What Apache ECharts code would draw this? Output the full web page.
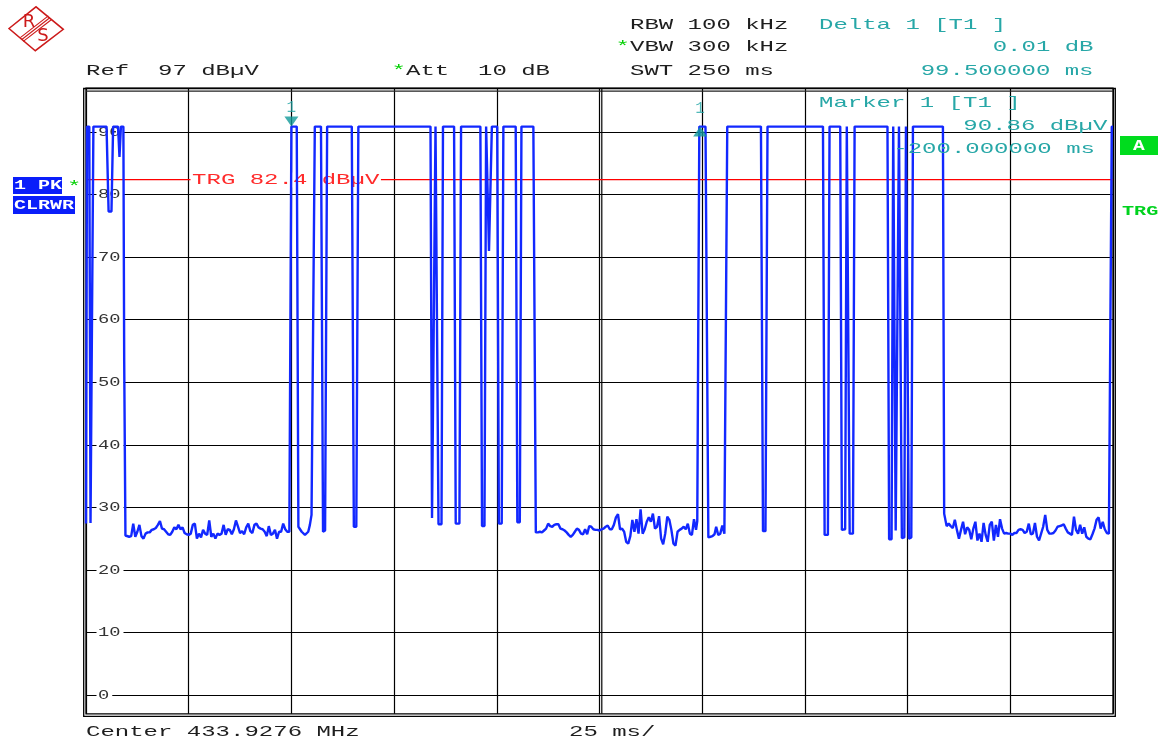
<!DOCTYPE html>
<html><head><meta charset="utf-8">
<script src="https://cdn.jsdelivr.net/npm/echarts@6/dist/echarts.min.js"></script>
<style>html,body{margin:0;padding:0;background:#fff}#c{width:1159px;height:740px}</style>
</head><body><div id="c"></div>
<script>
// ---------------- data ----------------
const H = 90.86;                       // level of the "on" state (marker reading)
const yTickValues = [0,10,20,30,40,50,60,70,80,90];
const yTickLabels = ['0','10','20','30','40','50','60','70','80','90'];
const xMin = 0, xMax = 250, xStep = 25;  // ms, 25 ms/div
const yMin = -3, yMax = 97;              // dBµV, Ref 97, 10 dB/div
const trgLevel = 82.4;
const marker1 = [50, 90.86];
const delta1 = [149.5, 90.87];
const noiseStep = 0.5;

const startT = [0, 0.25, 0.8, 1.1, 1.45, 1.8, 5.0, 5.5, 6.2, 6.6, 7.8, 8.15, 8.5, 9.1, 9.3, 9.6];
const startV = [27.4, H, H, 27.5, 27.5, H, H, 77.3, 77.3, H, H, 86.0, H, H, 53.3, 25.5];

const noise1Start = 10.0;
const noise1 = [25.4,25.3,25.4,27.4,25.3,26.1,27.2,25.4,25.0,25.8,
 26.0,26.0,26.4,26.5,26.7,27.2,27.8,26.6,26.5,26.1,
 25.7,25.6,26.1,26.8,26.5,27.2,26.5,26.8,25.9,25.7,
 25.6,25.8,27.2,27.4,25.0,25.8,25.2,26.4,25.8,25.6,
 27.9,25.3,25.8,25.0,25.8,25.6,25.8,27.2,25.6,26.5,
 26.4,25.7,26.5,27.9,26.9,25.9,26.2,25.7,26.8,27.4,
 26.2,25.9,27.2,27.4,26.8,26.6,26.5,26.1,25.4,27.0,
 25.6,25.8,26.4,25.0,26.1,26.1,27.4,26.5,26.1,26.1];

const burst1T = [49.7, 50.0, 51.3, 51.7, 52.5, 53.3, 54.1, 54.5, 54.9, 55.3, 55.7,
 57.2, 57.7, 58.2, 58.7,
 64.7, 65.2, 65.8, 66.3,
 83.86, 84.23, 84.71, 85.08,
 85.44, 85.81, 86.54, 86.9,
 89.6, 90.0, 90.9, 91.3,
 96.0, 96.4, 97.0, 97.4,
 97.8, 98.1, 98.5, 98.8,
 100.1, 100.5, 101.2, 101.6,
 104.6, 105.0, 105.6, 106.0,
 108.9, 109.5];
const burst1V = [26.2, H, H, 26.9, 26.1, 25.6, 26.1, 27.2, 28.8, 28.5, H,
 H, 26.1, 26.3, H,
 H, 26.9, 26.9, H,
 H, 28.3, 28.3, H,
 H, 27.3, 27.3, H,
 H, 27.4, 27.4, H,
 H, 27.0, 27.0, H,
 H, 71.0, 70.9, H,
 H, 27.4, 27.4, H,
 H, 27.6, 27.6, H,
 H, 26.0];

const noise2Start = 110.0;
const noise2 = [26.0,26.1,26.0,26.3,26.6,27.4,27.0,26.9,27.2,27.3,
 27.3,26.6,26.5,26.3,26.0,25.6,25.3,25.6,26.1,26.6,
 26.4,25.8,25.7,26.5,25.7,27.0,26.9,26.5,26.4,26.4,
 26.3,26.5,26.6,26.9,27.1,26.5,26.5,27.2,28.4,28.9,
 26.5,26.6,26.1,24.5,24.2,25.4,28.0,26.1,28.1,25.8,
 29.7,25.8,26.5,27.7,28.4,27.7,29.0,26.6,26.9,28.6,
 25.0,24.1,25.8,28.5,28.0,26.4,24.2,23.9,26.1,26.4,
 26.6,26.9,26.5,27.4,25.8,25.6,28.1,26.4];

const burst2T = [148.8, 149.3, 150.8, 151.5, 152.0, 152.5, 153.0, 153.4, 153.9, 154.4, 154.9, 155.4, 155.7, 156.1,
 164.3, 164.8, 165.4, 165.9,
 179.4, 179.8, 180.6, 181.0,
 183.6, 184.0, 184.8, 185.2,
 185.5, 185.9, 186.7, 187.1,
 195.1, 195.5, 196.1, 196.5,
 196.8, 197.1, 197.5, 197.9,
 198.2, 198.6, 199.2, 199.6,
 199.9, 200.3, 200.9, 201.3,
 208.6, 208.9, 209.5];
const burst2V = [27.8, H, H, 25.2, 25.3, 25.4, 25.7, 26.9, 25.6, 25.8, 27.1, 25.8, 26.0, H,
 H, 26.2, 26.2, H,
 H, 25.6, 25.6, H,
 H, 26.4, 26.5, H,
 H, 25.8, 25.8, H,
 H, 24.9, 24.9, H,
 H, 26.3, 26.3, H,
 H, 25.1, 25.2, H,
 H, 25.0, 25.2, H,
 H, 29.0, 27.0];

const noise3Start = 210.0;
const noise3 = [27.4,27.0,26.7,28.0,26.4,25.0,26.4,27.7,25.7,26.8,
 26.4,24.9,26.6,27.7,24.7,25.8,24.5,27.5,25.6,24.5,
 27.2,27.7,24.7,27.2,25.3,28.1,26.6,25.8,25.9,25.8,
 25.8,25.6,25.9,25.9,26.4,26.5,26.4,25.9,26.1,27.4,
 25.7,25.8,27.5,25.3,24.7,25.8,26.9,28.8,26.4,25.8,
 25.8,25.9,26.3,26.9,27.0,27.1,27.3,26.6,26.0,25.8,
 25.6,28.5,26.4,25.8,27.2,25.8,26.8,25.3,25.0,24.9,
 25.7,26.6,28.0,28.4,26.6,27.7,26.5,25.9,25.8];

const endT = [249.7, 250];
const endV = [H, H];

// ---------------- build ----------------
const pairs = (T, V) => T.map((t, i) => [t, V[i]]);
const noise = (s, arr) => arr.map((v, i) => [s + i * noiseStep, v]);
const trace = [].concat(
  pairs(startT, startV), noise(noise1Start, noise1),
  pairs(burst1T, burst1V), noise(noise2Start, noise2),
  pairs(burst2T, burst2V), noise(noise3Start, noise3),
  pairs(endT, endV));
const trgLine = [[xMin, trgLevel], [xMax, trgLevel]];

const MONO = '"Liberation Mono", "DejaVu Sans Mono", monospace';
const TEAL = '#27a7a7';
const chart = echarts.init(document.getElementById('c'), null, {renderer: 'canvas'});

chart.setOption({
  animation: false,
  backgroundColor: '#fff',
  grid: {left: 86, right: 46, top: 88.2, bottom: 26.2, show: true, borderColor: '#000', borderWidth: 1.3, backgroundColor: 'transparent'},
  xAxis: {type: 'value', min: xMin, max: xMax, interval: xStep,
    axisLine: {show: false}, axisTick: {show: false}, axisLabel: {show: false},
    splitLine: {show: true, lineStyle: {color: '#000', width: 1.2}}},
  yAxis: {type: 'value', min: yMin, max: yMax,
    axisLine: {show: false},
    axisTick: {show: false, customValues: yTickValues},
    axisLabel: {show: false, customValues: yTickValues},
    splitLine: {show: true, lineStyle: {color: '#000', width: 1.2}}},
  series: [
    {type: 'line', data: trgLine, z: 1, silent: true, showSymbol: false, symbol: 'none',
     lineStyle: {color: '#ff0000', width: 1.2}},
    {type: 'line', data: trace, z: 3, showSymbol: false, symbol: 'none', silent: true,
     lineStyle: {color: '#1228ff', width: 2.4}},
    {type: 'scatter', z: 4, silent: true,
     itemStyle: {color: '#119a9a'},
     label: {show: true, formatter: '1', position: 'top', color: TEAL, fontFamily: MONO, fontSize: 16},
     data: [
       {value: marker1, symbol: 'path://M0,0L14,0L7,10Z', symbolSize: [14, 10], symbolOffset: [0, -5], label: {distance: 1}},
       {value: delta1, symbol: 'path://M7,0L14,10L0,10Z', symbolSize: [14, 10], symbolOffset: [0, 5], label: {distance: 10}}
     ]}
  ]
});

const px = v => chart.convertToPixel({xAxisIndex: 0}, v);
const py = v => chart.convertToPixel({yAxisIndex: 0}, v);
const gTop = py(yMax), gBot = py(yMin), gL = px(xMin), gR = px(xMax);

function T(text, x, y, o) {
  o = o || {};
  return {type: 'text', x: x, y: y, z: o.z || 5, scaleX: o.sx || 1.6, silent: true,
    style: Object.assign({text: text, fill: o.color || '#1e1e1e', font: o.font || ('15px ' + MONO),
      align: o.align || 'left', verticalAlign: 'middle'}, o.style || {})};
}

const g = [];
// frame
g.push({type: 'rect', z: 1, silent: true, shape: {x: gL - 2.3, y: gTop + 0.3, width: gR - gL + 4.6, height: gBot - gTop + 2.3},
  style: {fill: 'none', stroke: '#000', lineWidth: 1.3}});
g.push({type: 'line', z: 1, silent: true, shape: {x1: gL, y1: gTop + 3, x2: gR, y2: gTop + 3}, style: {stroke: '#222', lineWidth: 1.2}});
// centre double line
g.push({type: 'line', z: 1, silent: true, shape: {x1: px(125) + 2.3, y1: gTop, x2: px(125) + 2.3, y2: gBot}, style: {stroke: '#000', lineWidth: 1.2}});
// y labels
yTickValues.forEach((v, i) => {
  g.push(T(yTickLabels[i], 96.5, py(v) + 0.5, {sx: 1.5, z: 2, font: '12.5px ' + MONO, color: '#333',
    style: {backgroundColor: '#fff', padding: [1, 2, 1, 1]}}));
});
// trigger label
g.push(T('TRG 82.4 dBµV', 190.5, py(trgLevel) + 0.5, {z: 2, color: '#ff2a2a', style: {backgroundColor: '#fff', padding: [0, 1, 0, 1]}}));
// header
g.push(T('RBW 100 kHz', 630, 25));
g.push(T('*', 615.6, 47.5, {color: '#00d000'}));
g.push(T('VBW 300 kHz', 630, 47.5));
g.push(T('SWT 250 ms', 630, 71.5));
g.push(T('Ref  97 dBµV', 86, 71.5));
g.push(T('*', 391.6, 71.5, {color: '#00d000'}));
g.push(T('Att  10 dB', 406, 71.5));
g.push(T('Delta 1 [T1 ]', 819, 25, {color: TEAL}));
g.push(T('0.01 dB', 1093.5, 47.5, {color: TEAL, align: 'right'}));
g.push(T('99.500000 ms', 1093.5, 71.5, {color: TEAL, align: 'right'}));
g.push(T('Marker 1 [T1 ]', 819, 103.5, {color: TEAL}));
g.push(T('90.86 dBµV', 963.3, 126.5, {color: TEAL}));
g.push(T('-200.000000 ms', 893.3, 149, {color: TEAL}));
// footer
g.push(T('Center 433.9276 MHz', 86, 732));
g.push(T('25 ms/', 569, 732));
// left boxes
g.push({type: 'rect', silent: true, z: 5, shape: {x: 13, y: 177, width: 49, height: 17}, style: {fill: '#0a1efa'}});
g.push({type: 'rect', silent: true, z: 5, shape: {x: 13, y: 196, width: 62, height: 18}, style: {fill: '#0a1efa'}});
g.push(T('1 PK', 14, 186, {sx: 1.54, z: 6, color: '#fff', font: 'bold 13px ' + MONO}));
g.push(T('CLRWR', 14, 205.5, {sx: 1.54, z: 6, color: '#fff', font: 'bold 13px ' + MONO}));
g.push(T('*', 67, 187, {color: '#00d000'}));
// right boxes
g.push({type: 'rect', silent: true, z: 5, shape: {x: 1120, y: 136, width: 38, height: 19}, style: {fill: '#00dc1e'}});
g.push(T('A', 1139, 146, {sx: 1.4, z: 6, color: '#fff', align: 'center', font: 'bold 14px ' + MONO}));
g.push(T('TRG', 1122, 211.5, {sx: 1.55, color: '#00d21e', font: 'bold 13px ' + MONO}));
// R&S logo
const RED = '#cc1a1a';
g.push({type: 'polygon', silent: true, z: 5, shape: {points: [[9, 28.5], [36, 6.8], [63.3, 29.3], [35.3, 50.7]]},
  style: {fill: 'none', stroke: RED, lineWidth: 1.5}});
[-2.4, 0, 2.4].forEach(d => {
  g.push({type: 'line', silent: true, z: 5,
    shape: {x1: 21.8 + d * 0.62, y1: 39.5 + d * 0.79, x2: 49.8 + d * 0.62, y2: 17.8 + d * 0.79},
    style: {stroke: RED, lineWidth: 1.1}});
});
g.push({type: 'text', silent: true, z: 5, x: 29, y: 22.5, style: {text: 'R', fill: RED, font: '18px "DejaVu Sans", sans-serif', align: 'center', verticalAlign: 'middle'}});
g.push({type: 'text', silent: true, z: 5, x: 43, y: 36.5, style: {text: 'S', fill: RED, font: '18px "DejaVu Sans", sans-serif', align: 'center', verticalAlign: 'middle'}});

chart.setOption({graphic: g});
</script></body></html>
